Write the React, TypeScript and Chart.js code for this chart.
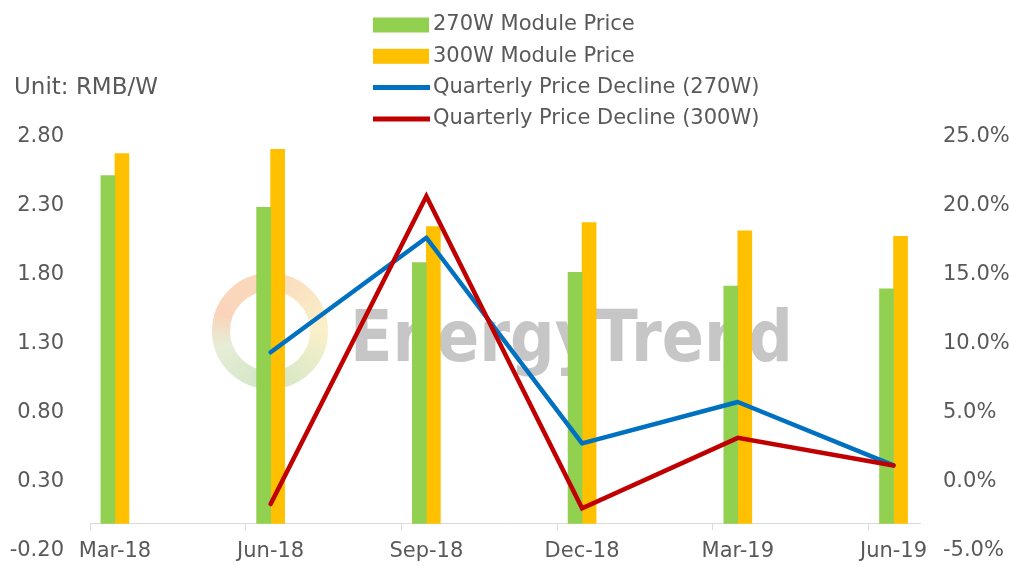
import React, { useEffect, useRef } from 'react';
import { Chart, registerables } from 'chart.js';

Chart.register(...registerables);

// ---------- data ----------
const categories = ['Mar-18', 'Jun-18', 'Sep-18', 'Dec-18', 'Mar-19', 'Jun-19'];
const price270 = [2.52, 2.29, 1.89, 1.82, 1.72, 1.70];
const price300 = [2.68, 2.71, 2.15, 2.18, 2.12, 2.08];
const decline270: (number | null)[] = [null, 9.4, 17.7, 2.8, 5.8, 1.2];
const decline300: (number | null)[] = [null, -1.6, 20.7, -1.9, 3.2, 1.2];
const leftTicks = [-0.2, 0.3, 0.8, 1.3, 1.8, 2.3, 2.8];
const rightTicks = [-5, 0, 5, 10, 15, 20, 25];
const seriesLabels = [
  '270W Module Price',
  '300W Module Price',
  'Quarterly Price Decline (270W)',
  'Quarterly Price Decline (300W)',
];
const unitLabel = 'Unit: RMB/W';
const watermark = 'EnergyTrend';

// ---------- style ----------
const FONT = '"DejaVu Sans", sans-serif';
const TEXT = '#595959';
const GREEN = '#92D050';
const YELLOW = '#FFC000';
const BLUE = '#0070C0';
const RED = '#C00000';
const TICK_SHIFT = 0.16;

const toPoints = (arr: (number | null)[]) =>
  arr.map((v, i) => ({ x: i, y: v })).filter((p) => p.y !== null);

const isCat = (v: number) => Math.abs(v - Math.round(v)) < 1e-6;

const watermarkPlugin = {
  id: 'watermark',
  beforeDatasetsDraw(chart: any) {
    const ctx = chart.ctx;
    ctx.save();
    const cx = 270, cy = 331;
    const anyCtx = ctx as any;
    if (anyCtx.createConicGradient) {
      const g = anyCtx.createConicGradient(0, cx, cy);
      g.addColorStop(0, 'rgba(245,225,150,0.5)');
      g.addColorStop(0.25, 'rgba(160,205,140,0.5)');
      g.addColorStop(0.45, 'rgba(200,215,165,0.45)');
      g.addColorStop(0.55, 'rgba(245,170,120,0.5)');
      g.addColorStop(0.75, 'rgba(245,180,120,0.5)');
      g.addColorStop(1, 'rgba(245,225,150,0.5)');
      ctx.strokeStyle = g;
    } else {
      ctx.strokeStyle = 'rgba(240,200,150,0.45)';
    }
    ctx.lineWidth = 18;
    ctx.beginPath();
    ctx.arc(cx, cy, 49, 0, Math.PI * 2);
    ctx.stroke();

    ctx.font = 'bold 72px ' + FONT;
    const w = ctx.measureText(watermark).width;
    ctx.translate(350, 361);
    ctx.scale(443 / w, 1);
    ctx.fillStyle = 'rgba(160,160,160,0.6)';
    ctx.textBaseline = 'alphabetic';
    ctx.fillText(watermark, 0, 0);
    ctx.restore();
  },
};

const legendPlugin = {
  id: 'customLegend',
  afterDraw(chart: any) {
    const ctx = chart.ctx;
    ctx.save();
    ctx.textBaseline = 'middle';
    ctx.textAlign = 'left';
    ctx.font = '21px ' + FONT;
    chart.data.datasets.forEach((ds: any, i: number) => {
      const y = 25 + i * 31.3;
      if (ds.type === 'bar') {
        ctx.fillStyle = ds.backgroundColor;
        ctx.fillRect(373, y - 7.5, 56, 15);
      } else {
        ctx.strokeStyle = ds.borderColor;
        ctx.lineWidth = 5;
        ctx.lineCap = 'butt';
        ctx.beginPath();
        ctx.moveTo(373, y);
        ctx.lineTo(430, y);
        ctx.stroke();
      }
      ctx.fillStyle = TEXT;
      ctx.fillText(ds.label, 433, y);
    });
    ctx.font = '23px ' + FONT;
    ctx.fillStyle = TEXT;
    ctx.fillText(unitLabel, 14, 88);
    ctx.restore();
  },
};

export default function App() {
  const ref = useRef<HTMLCanvasElement | null>(null);

  useEffect(() => {
    if (!ref.current) return;
    const xTickValues: number[] = [];
    categories.forEach((_, i) => {
      xTickValues.push(i - TICK_SHIFT);
      xTickValues.push(i);
    });

    const chart = new Chart(ref.current, {
      type: 'bar',
      data: {
        datasets: [
          {
            type: 'bar',
            label: seriesLabels[0],
            data: toPoints(price270) as any,
            backgroundColor: GREEN,
            barThickness: 14,
            yAxisID: 'y',
            xAxisID: 'x',
            order: 3,
          },
          {
            type: 'bar',
            label: seriesLabels[1],
            data: toPoints(price300) as any,
            backgroundColor: YELLOW,
            barThickness: 14,
            yAxisID: 'y',
            xAxisID: 'x',
            order: 3,
          },
          {
            type: 'line',
            label: seriesLabels[2],
            data: toPoints(decline270) as any,
            borderColor: BLUE,
            backgroundColor: BLUE,
            borderWidth: 4.5,
            pointRadius: 0,
            tension: 0,
            borderJoinStyle: 'round',
            borderCapStyle: 'round',
            yAxisID: 'y1',
            xAxisID: 'x',
            order: 2,
          },
          {
            type: 'line',
            label: seriesLabels[3],
            data: toPoints(decline300) as any,
            borderColor: RED,
            backgroundColor: RED,
            borderWidth: 4.5,
            pointRadius: 0,
            tension: 0,
            borderJoinStyle: 'miter',
            borderCapStyle: 'round',
            yAxisID: 'y1',
            xAxisID: 'x',
            order: 1,
          },
        ] as any,
      },
      options: {
        responsive: false,
        animation: false,
        layout: { padding: { top: 137, bottom: 15, left: 0, right: 0 } },
        plugins: {
          legend: { display: false },
          tooltip: { enabled: false },
          title: { display: false },
        },
        scales: {
          x: {
            type: 'linear',
            position: { y: 0 } as any,
            min: -TICK_SHIFT,
            max: categories.length - 1 + 0.17,
            offset: false,
            afterBuildTicks: (s: any) => {
              s.ticks = xTickValues.map((v) => ({ value: v }));
            },
            afterFit: (s: any) => {
              s.height = 15;
              s.paddingTop = 0;
              s.paddingBottom = 0;
            },
            grid: {
              display: true,
              drawOnChartArea: false,
              drawTicks: true,
              tickLength: 6,
              offset: false,
              lineWidth: 1,
              color: (c: any) =>
                c.tick && isCat(c.tick.value) ? 'rgba(0,0,0,0)' : '#D9D9D9',
            },
            border: { display: true, color: '#D9D9D9', width: 1 },
            ticks: {
              autoSkip: false,
              maxRotation: 0,
              minRotation: 0,
              padding: 10,
              color: TEXT,
              font: { family: FONT, size: 21 },
              callback: (v: any) => (isCat(Number(v)) ? categories[Math.round(Number(v))] : ''),
            },
          },
          y: {
            type: 'linear',
            position: 'left',
            min: leftTicks[0],
            max: leftTicks[leftTicks.length - 1],
            afterBuildTicks: (s: any) => {
              s.ticks = leftTicks.map((v) => ({ value: v }));
            },
            afterFit: (s: any) => {
              s.width = 90;
              s.paddingTop = 0;
              s.paddingBottom = 0;
            },
            grid: { display: false, drawTicks: false },
            border: { display: false },
            ticks: {
              padding: 26,
              color: TEXT,
              font: { family: FONT, size: 21 },
              callback: (v: any) => Number(v).toFixed(2),
            },
          },
          y1: {
            type: 'linear',
            position: 'right',
            min: rightTicks[0],
            max: rightTicks[rightTicks.length - 1],
            afterBuildTicks: (s: any) => {
              s.ticks = rightTicks.map((v) => ({ value: v }));
            },
            afterFit: (s: any) => {
              s.width = 89;
              s.paddingTop = 0;
              s.paddingBottom = 0;
            },
            grid: { display: false, drawTicks: false },
            border: { display: false },
            ticks: {
              padding: 23,
              color: TEXT,
              font: { family: FONT, size: 21 },
              callback: (v: any) => Number(v).toFixed(1) + '%',
            },
          },
        },
      } as any,
      plugins: [watermarkPlugin, legendPlugin],
    });
    return () => chart.destroy();
  }, []);

  return (
    <div style={{ position: 'absolute', left: 0, top: 0, width: 1009, height: 566, background: '#fff' }}>
      <canvas ref={ref} width={1009} height={566} style={{ display: 'block' }} />
    </div>
  );
}
